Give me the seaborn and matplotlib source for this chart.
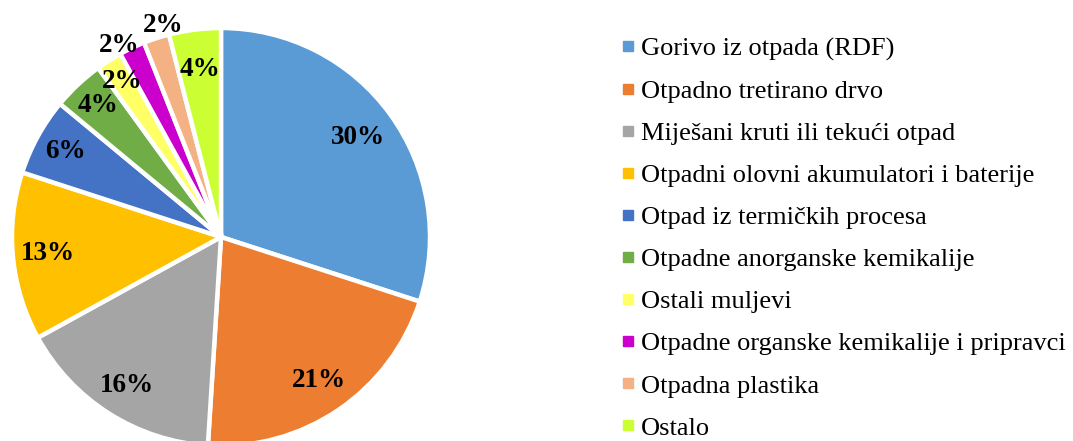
import numpy as np
import matplotlib
matplotlib.use("Agg")
import matplotlib.pyplot as plt
from matplotlib.lines import Line2D
import seaborn as sns

categories = [
    "Gorivo iz otpada (RDF)",
    "Otpadno tretirano drvo",
    "Miješani kruti ili tekući otpad",
    "Otpadni olovni akumulatori i baterije",
    "Otpad iz termičkih procesa",
    "Otpadne anorganske kemikalije",
    "Ostali muljevi",
    "Otpadne organske kemikalije i pripravci",
    "Otpadna plastika",
    "Ostalo",
]
shares = [30, 21, 16, 13, 6, 4, 2, 2, 2, 4]
pct_labels = ["30%", "21%", "16%", "13%", "6%", "4%", "2%", "2%", "2%", "4%"]
hex_colors = ["#5B9BD5", "#ED7D31", "#A5A5A5", "#FFC000", "#4472C4",
              "#70AD47", "#FFFF66", "#CC00CC", "#F4B183", "#CCFF33"]

sns.set_theme(style="white")
plt.rcParams["font.family"] = ["Liberation Serif", "DejaVu Serif"]
plt.rcParams["text.color"] = "black"
palette = sns.color_palette(hex_colors)

W, H = 1073, 441
fig = plt.figure(figsize=(W / 100, H / 100), dpi=100)

# pie axes placed in pixels: centre (221, 237), radius 209
cx, cy, r = 221, 237, 209
pad = 1.03
side = 2 * r * pad
ax = fig.add_axes([(cx - side / 2) / W, (H - cy - side / 2) / H, side / W, side / H])

wedges, _ = ax.pie(shares, colors=palette, startangle=90, counterclock=False,
                   wedgeprops=dict(edgecolor="white", linewidth=3.2))
ax.set_xlim(-pad, pad)
ax.set_ylim(-pad, pad)
ax.set_aspect("equal")
ax.axis("off")

# data labels: inside for most slices, just outside for two narrow ones
dist = [0.81, 0.83, 0.84, 0.83, 0.85, 0.86, 0.88, 1.04, 1.05, 0.81]
shift = [0, 0, 0, 0, 0, 0, 0, 2.8, -2.8, 0]
for w, lab, d, s in zip(wedges, pct_labels, dist, shift):
    mid = np.deg2rad((w.theta1 + w.theta2) / 2 + s)
    ax.text(d * np.cos(mid), d * np.sin(mid), lab, ha="center", va="center",
            fontsize=19.5, fontweight="bold", color="black", clip_on=False)

handles = [Line2D([0], [0], marker="s", linestyle="none", markersize=6.5,
                  markerfacecolor=c, markeredgecolor=c) for c in palette]
leg = fig.legend(handles, categories, loc="upper left",
                 bbox_to_anchor=(621 / W, 1 - 37 / H), frameon=False,
                 fontsize=19, handlelength=0.5, handletextpad=0.26,
                 labelspacing=0.705, borderaxespad=0, borderpad=0)
for t in leg.get_texts():
    t.set_color("black")

fig.savefig("out.png", dpi=100)
